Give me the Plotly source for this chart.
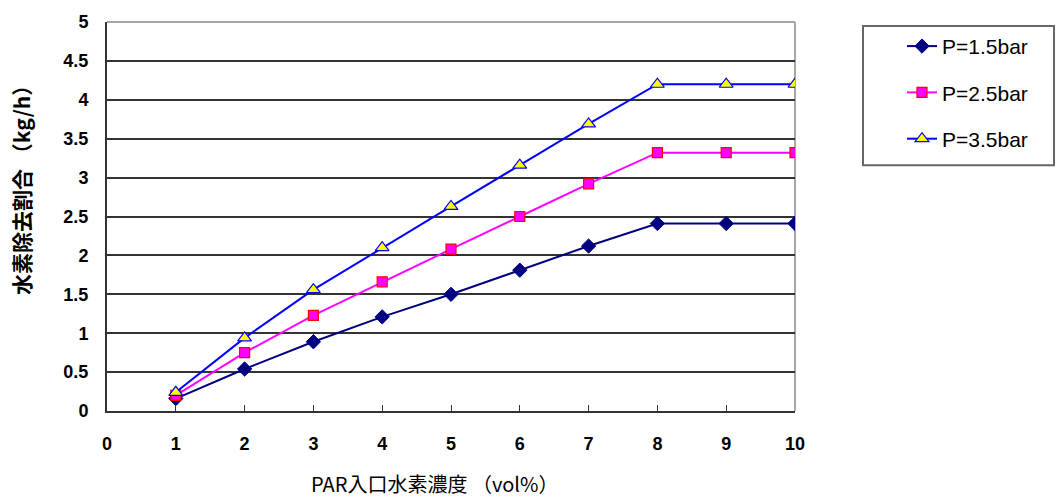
import plotly.graph_objects as go

x_vals = [1, 2, 3, 4, 5, 6, 7, 8, 9, 10]
p15 = [0.16, 0.54, 0.89, 1.21, 1.50, 1.81, 2.12, 2.41, 2.41, 2.41]
p25 = [0.20, 0.75, 1.23, 1.66, 2.08, 2.50, 2.92, 3.32, 3.32, 3.32]
p35 = [0.24, 0.94, 1.56, 2.10, 2.63, 3.16, 3.69, 4.20, 4.20, 4.20]
names = ["P=1.5bar", "P=2.5bar", "P=3.5bar"]

x_ticks = list(range(0, 11))
y_ticks = [0, 0.5, 1, 1.5, 2, 2.5, 3, 3.5, 4, 4.5, 5]
y_ticktext = ["0", "0.5", "1", "1.5", "2", "2.5", "3", "3.5", "4", "4.5", "5"]

x_title = "PAR入口水素濃度 （vol%）"
y_title = "水素除去割合 （kg/h）"

fig = go.Figure()
fig.add_trace(go.Scatter(x=x_vals, y=p15, name=names[0], mode="lines+markers",
                         legendgroup="a",
                         line=dict(color="#000080", width=2),
                         marker=dict(symbol="diamond", size=11, color="#000080",
                                     line=dict(color="#000080", width=1))))
fig.add_trace(go.Scatter(x=x_vals, y=p25, name=names[1], mode="lines+markers",
                         legendgroup="b",
                         line=dict(color="#FF00FF", width=2),
                         marker=dict(symbol="square", size=10, color="#FF00FF",
                                     line=dict(color="#FF0000", width=1.2))))
fig.add_trace(go.Scatter(x=x_vals, y=p35, name=names[2], mode="lines+markers",
                         legendgroup="c",
                         line=dict(color="#0000FF", width=2),
                         marker=dict(symbol="triangle-up", size=12, color="#FFFF00",
                                     line=dict(color="#0000FF", width=1.2))))

W, H = 1056, 496
L, R, T, B = 107, 795, 17, 411
pw, ph = R - L, B - T

def px_x(p):
    return (p - L) / pw

def px_y(p):
    return (B - p) / ph

# gray top/right borders
fig.add_shape(type="line", xref="paper", yref="paper", x0=0, x1=1, y0=1, y1=1,
              line=dict(color="#A6A6A6", width=2), layer="above")
fig.add_shape(type="line", xref="paper", yref="paper", x0=1, x1=1, y0=0, y1=1,
              line=dict(color="#A6A6A6", width=2), layer="below")
# legend box
fig.add_shape(type="rect", xref="paper", yref="paper",
              x0=px_x(863), x1=px_x(1054), y0=px_y(162), y1=px_y(21),
              line=dict(color="#666666", width=2), fillcolor="rgba(0,0,0,0)")

fig.add_annotation(text=y_title, xref="paper", yref="paper", x=px_x(21), y=px_y(182),
                   textangle=-90, showarrow=False, xanchor="center", yanchor="middle",
                   font=dict(family="Noto Sans CJK JP", size=21, color="#000000", weight="bold"))
fig.add_annotation(text=x_title, xref="paper", yref="paper", x=px_x(434), y=px_y(484),
                   showarrow=False, xanchor="center", yanchor="middle", height=22,
                   borderpad=0,
                   font=dict(family="Noto Sans CJK JP", size=20, color="#000000"))

fig.update_layout(
    width=W, height=H,
    margin=dict(l=L, r=W - R, t=T, b=H - B, pad=0),
    paper_bgcolor="white", plot_bgcolor="white",
    font=dict(family="Liberation Sans", color="#000000"),
    showlegend=True,
    legend=dict(x=px_x(902), y=px_y(21), xanchor="left", yanchor="top",
                bgcolor="rgba(0,0,0,0)", borderwidth=0, tracegroupgap=16,
                font=dict(family="Liberation Sans", size=21, color="#000000")),
    xaxis=dict(range=[0, 10], tickvals=x_ticks, ticks="inside", ticklen=6,
               tickcolor="#333333", showline=True, linecolor="#333333", linewidth=2,
               showgrid=False, zeroline=False, ticklabelstandoff=15,
               tickfont=dict(family="Liberation Sans", size=18, weight="bold")),
    yaxis=dict(range=[0, 5], tickvals=y_ticks, ticktext=y_ticktext, ticks="inside",
               ticklen=5, tickcolor="#333333", showline=True, linecolor="#333333",
               linewidth=2, showgrid=True, gridcolor="#333333", gridwidth=1.5,
               zeroline=False, ticklabelstandoff=13,
               tickfont=dict(family="Liberation Sans", size=18, weight="bold")),
)

fig.write_html("out.html", config={"displayModeBar": False},
               post_script="document.body.style.margin='0';")
